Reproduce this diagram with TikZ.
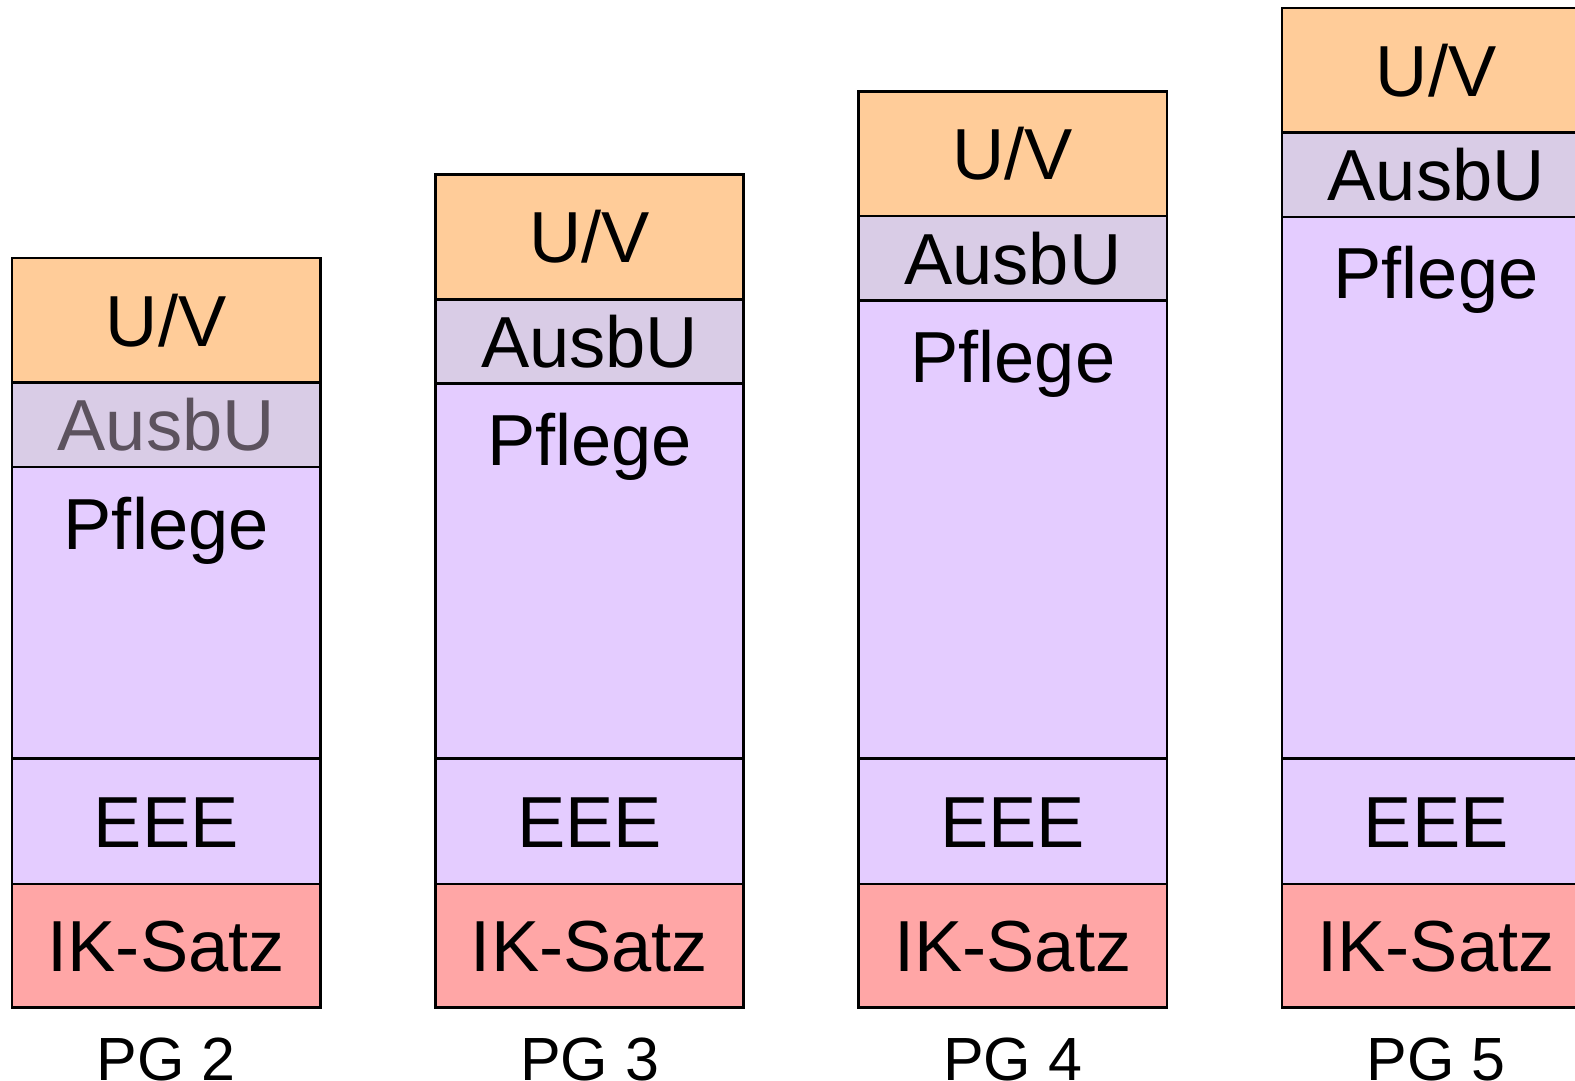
\documentclass[tikz,border=0pt]{standalone}
\usepackage{fontspec}
\setmainfont{Liberation Sans}
\usetikzlibrary{positioning}
\definecolor{uvcol}{HTML}{FFCC99}
\definecolor{ausbucol}{HTML}{D9CCE6}
\definecolor{pflegecol}{HTML}{E4CCFF}
\definecolor{ikcol}{HTML}{FFA6A6}
\definecolor{graytext}{HTML}{5C525E}
\tikzset{
  block/.style={draw=black, line width=2.6pt, outer sep=0pt, inner sep=0pt,
    minimum width=308.4pt, font=\fontsize{72.3}{80}\selectfont,
    text height=52pt, text depth=0pt},
  pglabel/.style={inner sep=0pt, font=\fontsize{61}{70}\selectfont,
    text height=44pt, text depth=0pt, anchor=north}
}
\begin{document}
\begin{tikzpicture}[x=1pt,y=1pt]
\useasboundingbox (0,0) rectangle (1575,1080);
\foreach \i in {0,1,2,3}{
\begin{scope}[xshift=423.3*\i pt]
\pgfmathsetmacro{\ph}{291.3+83.4*\i}
\node[block, fill=ikcol, minimum height=123.5pt, anchor=south] (ik\i) at (166.2,72.5) {IK-Satz};
\node[block, fill=pflegecol, minimum height=125.6pt, above=0pt of ik\i] (eee\i) {EEE};
\node[block, fill=pflegecol, minimum height=\ph pt, above=0pt of eee\i] (pflege\i) {};
\node[anchor=base, inner sep=0pt, font=\fontsize{72.3}{80}\selectfont] (pflegetext\i) at ([yshift=-82pt]pflege\i.north) {Pflege};
\ifnum\i=0
\node[block, fill=ausbucol, minimum height=84.4pt, above=0pt of pflege\i, text=graytext] (ausbu\i) {AusbU};
\else
\node[block, fill=ausbucol, minimum height=84.4pt, above=0pt of pflege\i] (ausbu\i) {AusbU};
\fi
\node[block, fill=uvcol, minimum height=124.6pt, above=0pt of ausbu\i] (uv\i) {U/V};
\pgfmathtruncatemacro{\pg}{\i+2}
\node[pglabel, below=29pt of ik\i] (pg\i) {PG \pg};
\end{scope}
}
\end{tikzpicture}
\end{document}
